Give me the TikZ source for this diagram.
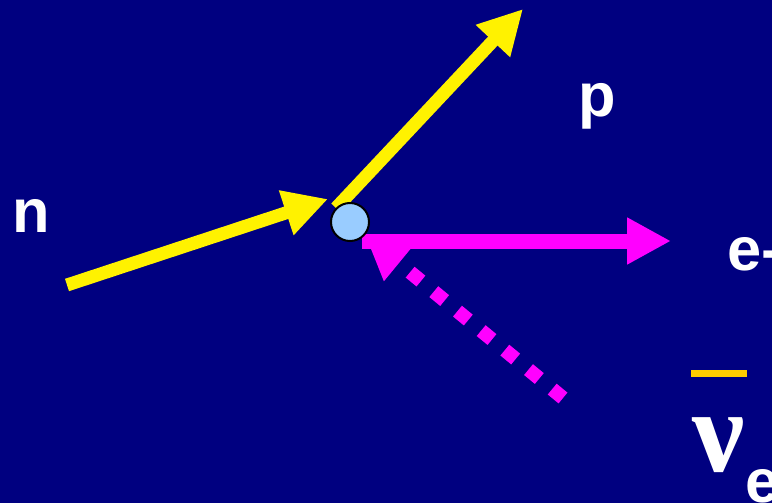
\documentclass[tikz,border=0pt]{standalone}
\usepackage{fontspec}
\setmainfont{Liberation Sans}
\newfontfamily\greekfont{Liberation Serif}
\usetikzlibrary{arrows.meta}
\definecolor{slidebg}{RGB}{0,0,128}
\definecolor{vtxblue}{RGB}{153,204,255}
\definecolor{barorange}{RGB}{255,204,0}
\definecolor{lepmag}{RGB}{255,0,255}

\begin{document}
\begin{tikzpicture}[x=0.75pt,y=-0.75pt,
  particle/.style={line width=9.75pt, -{Triangle[length=33pt,width=33pt]}},
  lepton/.style={line width=11.25pt, lepmag, -{Triangle[length=33pt,width=33pt]}},
  lbl/.style={text=white, font=\fontsize{46}{50}\selectfont\bfseries, inner sep=0pt, anchor=base west}]
  \fill[slidebg] (0,0) rectangle (772,503);
  \useasboundingbox (0,0) rectangle (772,503);
  \coordinate (nin) at (67,285);
  \coordinate (ntip) at (328,199);
  \coordinate (pin) at (336,208);
  \coordinate (ptip) at (523,9);
  \coordinate (ein) at (362,241);
  \coordinate (etip) at (671,241);
  \coordinate (nuin) at (563,398);
  \coordinate (nutip) at (365,235);
  \draw[particle, yellow] (nin) -- (ntip);
  \draw[particle, yellow] (pin) -- (ptip);
  \draw[lepton] (ein) -- (etip);
  \draw[lepton, line width=10.5pt, dash pattern=on 10.5pt off 12.5pt] (nuin) -- (nutip);
  \node[circle, draw=black, line width=1.5pt, fill=vtxblue, minimum size=28.5pt, inner sep=0pt] (v) at (350,222) {};
  \node[lbl] (n) at (12,232) {n};
  \node[lbl] (p) at (578,117) {p};
  \node[lbl] (e) at (727,270) {e-};
  \fill[barorange] (691,370) rectangle (747,377);
  \node[lbl, font=\fontsize{88}{92}\selectfont\greekfont\bfseries] (nu) at (692,471) {ν};
  \node[lbl] (sub) at (745,502) {e};
\end{tikzpicture}
\end{document}
